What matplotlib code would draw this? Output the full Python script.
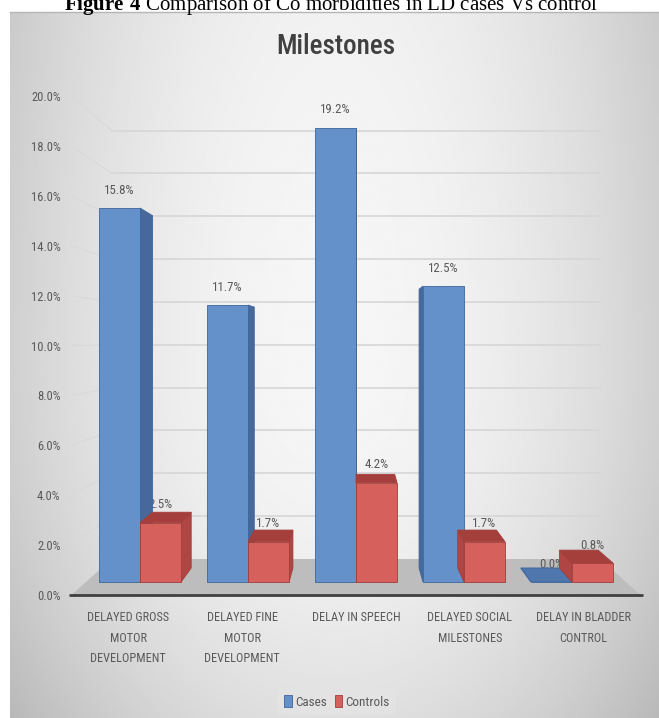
import matplotlib
matplotlib.use("Agg")
import matplotlib.pyplot as plt
from matplotlib import font_manager
from matplotlib.font_manager import FontProperties
from matplotlib.patches import Polygon
import numpy as np

# dados
categories = ["DELAYED GROSS\nMOTOR\nDEVELOPMENT", "DELAYED FINE\nMOTOR\nDEVELOPMENT",
              "DELAY IN SPEECH", "DELAYED SOCIAL\nMILESTONES", "DELAY IN BLADDER\nCONTROL"]
series = ["Cases", "Controls"]
cases = [15.8, 11.7, 19.2, 12.5, 0.0]
controls = [2.5, 1.7, 4.2, 1.7, 0.8]
yticks = np.arange(0, 21, 2)


# procura uma fonte estreita (tipo Calibri comprimida)
def fonte_estreita(pesos=(400, "normal", "regular")):
    melhores = []
    for f in font_manager.fontManager.ttflist:
        nome = f.name.lower()
        estreita = "narrow" in nome or "condensed" in nome or str(f.stretch) in (
            "condensed", "semi-condensed", "extra-condensed")
        if estreita and f.style == "normal" and f.weight in pesos:
            prio = 0 if "liberation" in nome else (1 if "roboto" in nome else 2)
            melhores.append((prio, f.fname))
    if melhores:
        melhores.sort()
        return melhores[0][1]
    return None


arq = fonte_estreita()
arq_titulo = fonte_estreita((500, "medium")) or arq
fator = 1.0 if arq else 0.84


def fp(size, arquivo=None):
    arquivo = arquivo or arq
    if arquivo:
        return FontProperties(fname=arquivo, size=size)
    return FontProperties(family="Liberation Sans", size=size * fator)


plt.rcParams["mathtext.fontset"] = "custom"
plt.rcParams["mathtext.rm"] = "Liberation Serif"
plt.rcParams["mathtext.bf"] = "Liberation Serif:bold"

W, H = 659, 718
fig = plt.figure(figsize=(W / 100, H / 100), dpi=100)

# fundo com gradiente (coordenadas em pixels)
bg = fig.add_axes([0, 0, 1, 1])
bg.set_xlim(0, W)
bg.set_ylim(H, 0)
bg.axis("off")
gx, gy = np.meshgrid(np.linspace(-1, 1, 300), np.linspace(-1, 1, 300))
shade = 0.965 - 0.15 * gx ** 2 - 0.09 * np.clip(gy, 0, None) ** 2 - 0.02 * np.clip(-gy, 0, None) ** 2
bg.imshow(shade, cmap="gray", vmin=0, vmax=1, extent=(10, W, H, 12), aspect="auto")
bg.plot([10, W], [12, 12], color="#b5b5b5", lw=1)
bg.text(331, 10, r"$\mathbf{Figure\ 4}$ Comparison of Co morbidities in LD cases Vs control",
        family="Liberation Serif", fontsize=15, ha="center", va="baseline", color="black")
bg.text(336, 47, "Milestones", fontproperties=fp(19.5, arq_titulo), ha="center", va="center",
        color="#404040")

# eixo principal (pixels -> dados)
L, R, T, B = 62, 645, 90, 600
X0, XS = 140, 108      # px do grupo 0, px por grupo
Y0, YS = 582, 23.67    # px do zero, px por 1%
ax = fig.add_axes([L / W, 1 - B / H, (R - L) / W, (B - T) / H])
ax.set_xlim((L - X0) / XS, (R - X0) / XS)
ax.set_ylim((Y0 - B) / YS, (Y0 - T) / YS)
ax.patch.set_visible(False)
for s in ax.spines.values():
    s.set_visible(False)

# perspectiva
VX, VY = 2.0, 10.22
S_FRONT, S_BACK, S_WALL = 1.054, 0.942, 0.905
XL, XR = -0.5, 4.5


def proj(x, y, s):
    return VX + (x - VX) * s, VY + (y - VY) * s


# chao e parede
floor = [proj(XL, 0, S_FRONT), proj(XR, 0, S_FRONT), proj(XR, 0, S_WALL), proj(XL, 0, S_WALL)]
ax.add_patch(Polygon(floor, closed=True, fc="#bdbdbd", ec="none", zorder=1))
for v in yticks[1:]:
    p1, p2 = proj(XL, v, S_WALL), proj(XR, v, S_WALL)
    ax.plot([p1[0], p2[0]], [p1[1], p2[1]], color="#d6d6d6", lw=1.2, zorder=1)
    p0 = proj(XL, v, S_FRONT)
    ax.plot([p0[0], p1[0]], [p0[1], p1[1]], color="#d9d9d9", lw=0.8, zorder=1)
f1, f2 = proj(XL, 0, S_FRONT), proj(XR, 0, S_FRONT)
ax.plot([f1[0] - 0.02, f2[0] + 0.02], [f1[1], f2[1]], color="#404040", lw=2, zorder=1.5,
        solid_capstyle="butt")

# barras
x = np.arange(len(categories))
w = 0.38
styles = [
    dict(front="#6591cb", side="#46689a", top="#4f77ad", edge="#3d659a"),
    dict(front="#d6605c", side="#b04643", top="#a53f3c", edge="#a23d3a"),
]
handles = []
for j, vals in enumerate([cases, controls]):
    st = styles[j]
    z = 3 + j
    lefts = x - w + j * w
    for x0, h in zip(lefts, vals):
        x1 = x0 + w
        xs = x1 if x1 <= VX else (x0 if x0 >= VX else None)
        if xs is not None:
            pts = [proj(xs, 0, 1), proj(xs, h, 1), proj(xs, h, S_BACK), proj(xs, 0, S_BACK)]
            ax.add_patch(Polygon(pts, closed=True, fc=st["side"], ec=st["edge"], lw=0.6, zorder=z))
        if h < VY:
            pts = [proj(x0, h, 1), proj(x1, h, 1), proj(x1, h, S_BACK), proj(x0, h, S_BACK)]
            ax.add_patch(Polygon(pts, closed=True, fc=st["top"], ec=st["edge"], lw=0.6, zorder=z))
        ax.text(x0 + w / 2, h + 0.76, f"{h:.1f}%", ha="center", va="center",
                fontproperties=fp(9.3), color="#595959", zorder=2.5)
    bars = ax.bar(lefts, vals, width=w, align="edge", color=st["front"], edgecolor=st["edge"],
                  linewidth=0.6, zorder=z + 0.1, label=series[j])
    handles.append(bars)

ax.set_yticks([proj(0, v, S_FRONT)[1] for v in yticks])
ax.set_yticklabels([f"{v:.1f}%" for v in yticks])
ax.set_xticks([proj(i, 0, S_FRONT)[0] for i in x])
ax.set_xticklabels(categories, linespacing=1.75)
ax.tick_params(axis="y", length=0, pad=1, labelcolor="#595959")
ax.tick_params(axis="x", length=0, pad=8, labelcolor="#595959")
for lb in ax.get_yticklabels():
    lb.set_fontproperties(fp(9.0))
for lb in ax.get_xticklabels():
    lb.set_fontproperties(fp(8.8))

fig.legend(handles, series, loc="center", bbox_to_anchor=(337 / W, 1 - 702 / H), ncol=2,
           frameon=True, facecolor="#e4e4e4", edgecolor="none", fancybox=False,
           prop=fp(9.5), handlelength=0.55, handleheight=1.0, handletextpad=0.25,
           columnspacing=0.6, borderpad=0.5, labelcolor="#595959")

fig.savefig("out.png", dpi=100)
